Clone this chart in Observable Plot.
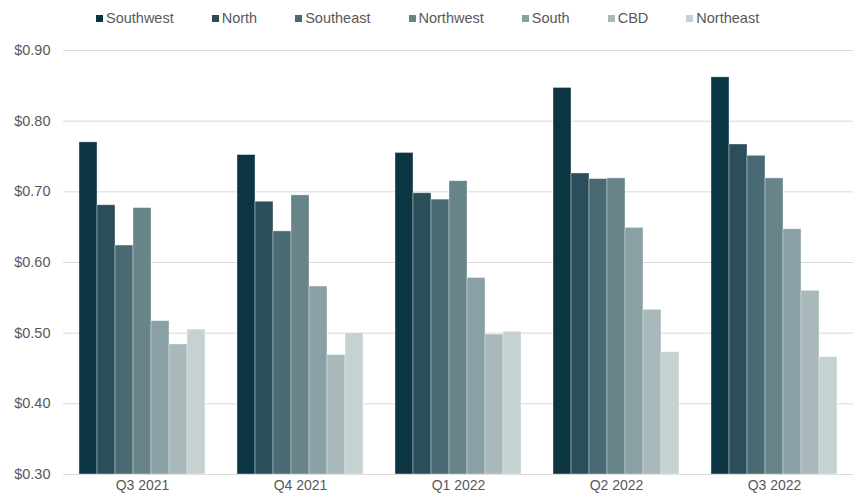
<!DOCTYPE html>
<html>
<head>
<meta charset="utf-8">
<script src="https://cdn.jsdelivr.net/npm/d3@7"></script>
<script src="https://cdn.jsdelivr.net/npm/@observablehq/plot@0.6"></script>
<style>
  html, body { margin: 0; padding: 0; background: #fff; }
  #legend { height: 36px; display: flex; align-items: center; padding-left: 96px; gap: 38px;
            font: 14.5px "Liberation Sans", Arial, sans-serif; color: #595959; }
  #legend .item { display: flex; align-items: center; }
  #legend .sw { width: 7px; height: 7px; margin-right: 3px; display: inline-block; }
  #chart svg { display: block; overflow: visible; }
</style>
</head>
<body>
<div id="legend"></div>
<div id="chart"></div>
<script>
const quarters = ["Q3 2021", "Q4 2021", "Q1 2022", "Q2 2022", "Q3 2022"];
const regions = ["Southwest", "North", "Southeast", "Northwest", "South", "CBD", "Northeast"];
const southwest = [0.770, 0.752, 0.755, 0.847, 0.862];
const north     = [0.681, 0.686, 0.698, 0.726, 0.767];
const southeast = [0.624, 0.644, 0.689, 0.718, 0.751];
const northwest = [0.677, 0.695, 0.715, 0.719, 0.719];
const south     = [0.517, 0.566, 0.578, 0.649, 0.647];
const cbd       = [0.484, 0.469, 0.498, 0.533, 0.560];
const northeast = [0.505, 0.500, 0.502, 0.473, 0.466];
const colors = ["#0b3543", "#2a4f5b", "#496a73", "#678489", "#89a0a4", "#a9b8ba", "#c6d2d2"];
const yTicks = [0.30, 0.40, 0.50, 0.60, 0.70, 0.80, 0.90];

const series = [southwest, north, southeast, northwest, south, cbd, northeast];
const data = regions.flatMap((r, i) => quarters.map((q, j) => ({quarter: q, region: r, value: series[i][j]})));
const yMin = yTicks[0];

// legend
const legend = document.getElementById("legend");
regions.forEach((r, i) => {
  const item = document.createElement("span");
  item.className = "item";
  const sw = document.createElement("span");
  sw.className = "sw";
  sw.style.background = colors[i];
  item.appendChild(sw);
  item.appendChild(document.createTextNode(r));
  legend.appendChild(item);
});

const chart = Plot.plot({
  width: 856,
  height: 459,
  marginTop: 14,
  marginBottom: 21,
  marginLeft: 63,
  marginRight: 3,
  style: {fontFamily: "'Liberation Sans', Arial, sans-serif", fontSize: "14.5px", color: "#595959", background: "#fff"},
  fx: {domain: quarters, paddingInner: 0, paddingOuter: 0, label: null},
  x: {domain: regions, paddingInner: 0, paddingOuter: 0.76, axis: null},
  y: {domain: [yTicks[0], yTicks[yTicks.length - 1]], label: null},
  color: {domain: regions, range: colors},
  marks: [
    Plot.gridY(yTicks, {stroke: "#d9d9d9", strokeOpacity: 1, strokeWidth: 1}),
    Plot.barY(data, {
      fx: "quarter", x: "region", y1: () => yMin, y2: "value", fill: "region",
      stroke: "#ffffff", strokeOpacity: 0.45, strokeWidth: 0.8
    }),
    Plot.axisY(yTicks, {tickSize: 0, tickPadding: 13, tickFormat: d => "$" + d.toFixed(2), label: null, fill: "#595959"}),
    Plot.axisFx({anchor: "bottom", tickSize: 0, tickPadding: 6, label: null, fill: "#595959", fontSize: 14})
  ]
});
document.getElementById("chart").appendChild(chart);
</script>
</body>
</html>
